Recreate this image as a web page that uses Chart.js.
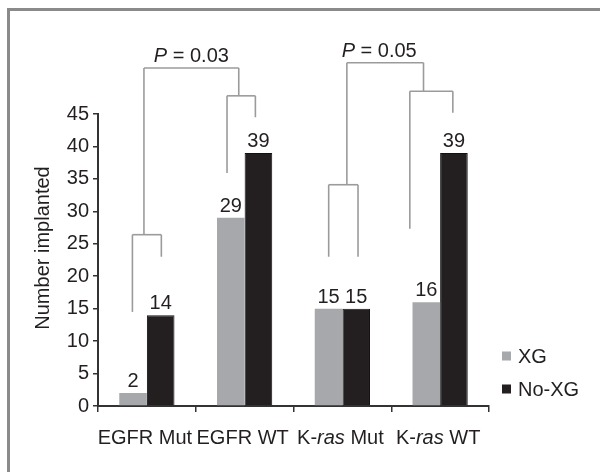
<!DOCTYPE html>
<html>
<head>
<meta charset="utf-8">
<script src="https://cdn.jsdelivr.net/npm/chart.js@4.4.1/dist/chart.umd.min.js"></script>
<style>
  html, body { margin: 0; padding: 0; background: #fff; }
  canvas { display: block; }
</style>
</head>
<body>
<canvas id="chart" width="600" height="472"></canvas>
<script>
// categories (label parts: [text, italic?])
const categories = ['EGFR Mut', 'EGFR WT', 'K-ras Mut', 'K-ras WT'];
const categoryParts = [
    [['EGFR Mut', false]],
    [['EGFR WT', false]],
    [['K-', false], ['ras', true], [' Mut', false]],
    [['K-', false], ['ras', true], [' WT', false]]
];
const seriesNames = ['XG', 'No-XG'];
const xgValues = [2, 29, 15, 16];
const noXgValues = [14, 39, 15, 39];
const yTicks = [0, 5, 10, 15, 20, 25, 30, 35, 40, 45];

// P value brackets: legs sit at (category + offset, value)
const pLabels = ['0.03', '0.05'];
const bracketTops = [52.1, 52.9];
// per comparison: two groups [cat, leftOff, leftVal, rightOff, rightVal, joinVal, stemOff]
const bracketGroups = [
    [[0, -0.148, 14.5, 0.148, 23.0, 26.4, -0.03], [1, -0.18, 35.9, 0.11, 44.5, 47.8, -0.06]],
    [[2, -0.14, 23.0, 0.16, 23.0, 34.1, 0.046], [3, -0.31, 27.3, 0.13, 45.2, 48.5, -0.17]]
];

const FONT = '"Liberation Sans", Arial, Helvetica, sans-serif';
const TEXT = '#231f20';
const XG_COLOR = '#a7a8ab';
const NOXG_COLOR = '#231f20';

const extras = {
    id: 'extras',
    beforeDraw(chart) {
        const ctx = chart.ctx;
        ctx.save();
        ctx.fillStyle = '#fff';
        ctx.fillRect(0, 0, chart.width, chart.height);
        // outer frame
        ctx.strokeStyle = '#8a8a8a';
        ctx.lineWidth = 3;
        ctx.strokeRect(8.5, 9.5, chart.width + 20, chart.height + 20);
        ctx.restore();
    },
    afterDraw(chart) {
        const ctx = chart.ctx;
        const xs = chart.scales.x;
        const ys = chart.scales.y;
        const area = chart.chartArea;
        const catW = xs.width / categories.length;
        const px = (cat, off) => xs.getPixelForValue(cat) + off * catW;
        ctx.save();

        // value labels above bars
        ctx.fillStyle = TEXT;
        ctx.font = '20px ' + FONT;
        ctx.textAlign = 'center';
        ctx.textBaseline = 'alphabetic';
        chart.data.datasets.forEach((ds, di) => {
            chart.getDatasetMeta(di).data.forEach((bar, i) => {
                ctx.fillText(String(ds.data[i]), bar.x, bar.y - 6);
            });
        });

        // x category labels with italic parts
        categoryParts.forEach((parts, i) => {
            let total = 0;
            parts.forEach(p => {
                ctx.font = (p[1] ? 'italic ' : '') + '20px ' + FONT;
                total += ctx.measureText(p[0]).width;
            });
            let x = xs.getPixelForValue(i) - total / 2 - 2;
            ctx.textAlign = 'left';
            parts.forEach(p => {
                ctx.font = (p[1] ? 'italic ' : '') + '20px ' + FONT;
                ctx.fillText(p[0], x, area.bottom + 38);
                x += ctx.measureText(p[0]).width;
            });
        });

        // y axis title
        ctx.save();
        ctx.translate(43, (area.top + area.bottom) / 2 - 12);
        ctx.rotate(-Math.PI / 2);
        ctx.textAlign = 'center';
        ctx.textBaseline = 'middle';
        ctx.font = '20px ' + FONT;
        ctx.fillText('Number implanted', 0, 0);
        ctx.restore();

        // legend
        const colors = [XG_COLOR, NOXG_COLOR];
        seriesNames.forEach((name, i) => {
            const cy = area.bottom - 50 + i * 33;
            ctx.fillStyle = colors[i];
            ctx.fillRect(area.right + 13, cy - 4.5, 9, 9);
            ctx.fillStyle = TEXT;
            ctx.font = '20px ' + FONT;
            ctx.textAlign = 'left';
            ctx.textBaseline = 'middle';
            ctx.fillText(name, area.right + 29, cy + 1);
        });

        // brackets
        ctx.strokeStyle = '#9b9b9b';
        ctx.lineWidth = 1.6;
        const line = (x1, y1, x2, y2) => {
            ctx.beginPath();
            ctx.moveTo(x1, y1);
            ctx.lineTo(x2, y2);
            ctx.stroke();
        };
        bracketGroups.forEach((groups, bi) => {
            const topY = ys.getPixelForValue(bracketTops[bi]);
            const stems = groups.map(g => {
                const [cat, lo, lv, ro, rv, jv, so] = g;
                const jy = ys.getPixelForValue(jv);
                const xl = px(cat, lo), xr = px(cat, ro);
                line(xl, ys.getPixelForValue(lv), xl, jy);
                line(xr, ys.getPixelForValue(rv), xr, jy);
                line(xl, jy, xr, jy);
                const xsm = px(cat, so);
                line(xsm, jy, xsm, topY);
                return xsm;
            });
            line(stems[0], topY, stems[1], topY);
            // P label
            const mid = (stems[0] + stems[1]) / 2;
            ctx.fillStyle = TEXT;
            ctx.textBaseline = 'alphabetic';
            ctx.font = 'italic 20px ' + FONT;
            const pW = ctx.measureText('P').width;
            ctx.font = '20px ' + FONT;
            const rest = ' = ' + pLabels[bi];
            const rW = ctx.measureText(rest).width;
            let x = mid - (pW + rW) / 2 - (bi === 1 ? 6 : 0);
            ctx.textAlign = 'left';
            ctx.font = 'italic 20px ' + FONT;
            ctx.fillText('P', x, topY - 6);
            ctx.font = '20px ' + FONT;
            ctx.fillText(rest, x + pW, topY - 6);
        });
        ctx.restore();
    }
};

new Chart(document.getElementById('chart'), {
    type: 'bar',
    data: {
        labels: categories,
        datasets: [
            { label: seriesNames[0], data: xgValues, backgroundColor: XG_COLOR, borderWidth: 0 },
            { label: seriesNames[1], data: noXgValues, backgroundColor: NOXG_COLOR, borderColor: '#111', borderWidth: 1 }
        ]
    },
    options: {
        responsive: false,
        animation: false,
        layout: { padding: { top: 114, right: 111, bottom: 0, left: 0 } },
        plugins: { legend: { display: false }, tooltip: { enabled: false } },
        datasets: { bar: { categoryPercentage: 0.565, barPercentage: 1.0 } },
        scales: {
            x: {
                ticks: { display: false },
                grid: { offset: true, drawOnChartArea: false, drawTicks: true, tickLength: 6, color: '#333', lineWidth: 1.5 },
                border: { display: true, color: '#333', width: 2 },
                afterFit(scale) { scale.height = 66; }
            },
            y: {
                min: 0,
                max: 45,
                afterBuildTicks(scale) { scale.ticks = yTicks.map(v => ({ value: v })); },
                ticks: { color: TEXT, font: { family: FONT, size: 20 }, padding: 4 },
                grid: { drawOnChartArea: false, drawTicks: true, tickLength: 5, color: '#333', lineWidth: 1.5 },
                border: { display: true, color: '#333', width: 2 },
                afterFit(scale) { scale.width = 98; }
            }
        }
    },
    plugins: [extras]
});
</script>
</body>
</html>
